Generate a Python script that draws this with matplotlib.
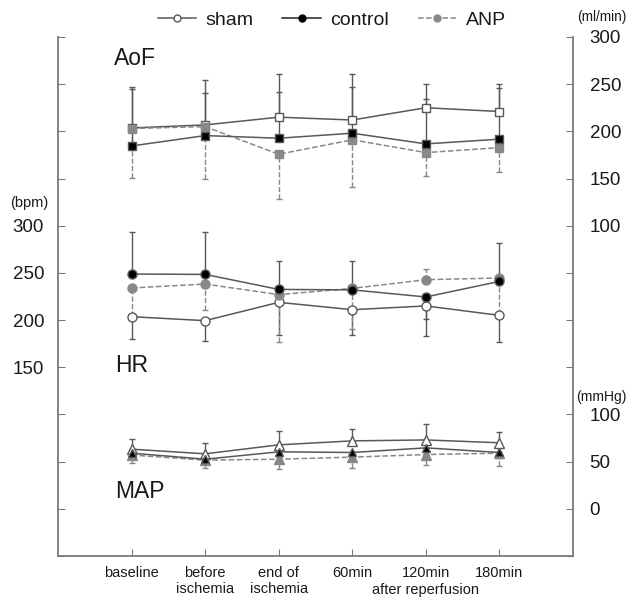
import numpy as np
import matplotlib
matplotlib.use("Agg")
import matplotlib.pyplot as plt
from matplotlib.lines import Line2D

plt.rcParams["font.family"] = ["Liberation Sans", "DejaVu Sans"]

# ==========================
# Data
# ==========================
times = ["baseline", "before\nischemia", "end of\nischemia", "60min", "120min", "180min"]
x = np.arange(len(times))

# AoF (ml/min)
aof_sham = [203.6, 206.8, 215.0, 212.0, 225.0, 221.0]
aof_control = [184.5, 195.5, 192.7, 198.0, 186.7, 191.7]
aof_anp = [203.0, 205.0, 175.7, 191.0, 177.5, 182.7]
aof_sham_up = [43.4, 47.7, 45.8, 48.8, 25.0, 29.0]
aof_control_up = [60.5, 45.0, 48.7, 48.7, 47.6, 54.0]
aof_anp_down = [52.0, 55.7, 47.3, 49.6, 24.7, 25.4]

# HR (bpm)
hr_sham = [203.6, 199.4, 218.8, 211.0, 215.0, 205.0]
hr_control = [248.8, 248.4, 232.5, 232.0, 224.5, 241.0]
hr_anp = [234.0, 238.2, 227.0, 233.6, 242.8, 244.6]
hr_sham_down = [23.6, 21.4, 34.8, 26.5, 32.3, 28.0]
hr_control_up = [44.5, 44.6, 30.5, 31.0, 0.0, 40.6]
hr_control_down = [0.0, 0.0, 0.0, 0.0, 23.5, 0.0]
hr_anp_up = [0.0, 0.0, 0.0, 0.0, 11.0, 0.0]
hr_anp_down = [30.0, 27.0, 50.0, 43.0, 0.0, 38.0]

# MAP (mmHg)
map_sham = [63.2, 58.3, 67.8, 72.0, 73.0, 70.0]
map_control = [59.0, 52.6, 60.4, 59.7, 64.6, 59.7]
map_anp = [57.0, 51.6, 52.6, 54.8, 57.5, 59.0]
map_sham_up = [10.8, 11.7, 14.8, 12.4, 16.7, 11.9]
map_control_down = [5.0, 5.0, 5.0, 6.0, 6.0, 6.0]
map_anp_down = [8.6, 8.6, 10.2, 11.8, 10.9, 13.5]

# ==========================
# Style
# ==========================
line_c = "#585858"
anp_c = "#888888"
spine_c = "#7a7a7a"
text_c = "#1a1a1a"
zero = [0] * len(x)


def series(ax, y, lo, hi, color, ls, marker, mfc, ms):
    ax.errorbar(x, y, yerr=[lo, hi], color=color, ls=ls, lw=1.1,
                marker=marker, mfc=mfc, mec=color if mfc != "white" else line_c,
                ms=ms, capsize=2.5, elinewidth=1.0, capthick=1.0,
                clip_on=False, zorder=3)
    if ls == "--":
        # dashed error bars for ANP
        for child in ax.containers[-1].lines[2]:
            child.set_linestyle("--")


# ==========================
# Figure
# ==========================
fig = plt.figure(figsize=(6.34, 5.98), dpi=100)
ax = fig.add_axes([0.0915, 0.0702, 0.8123, 0.868])
ax2 = ax.twinx()
ax3 = ax.twinx()

# HR on left axis
ax.set_ylim(-50, 500)
ax.set_xlim(-1, 6)
left_ticks = np.arange(-50, 501, 50)
ax.set_yticks(left_ticks, [str(t) if 150 <= t <= 300 else "" for t in left_ticks])

# AoF on right axis
ax2.set_ylim(-250, 300)
right_ticks = np.arange(-250, 301, 50)
ax2.set_yticks(right_ticks, [str(t) if t >= 100 else "" for t in right_ticks])

# MAP on hidden axis with right labels
ax3.set_ylim(-50, 500)
ax3.set_yticks([0, 50, 100])

for a in (ax, ax2, ax3):
    a.spines["top"].set_visible(False)
    for s in a.spines.values():
        s.set_color(spine_c)
        s.set_linewidth(1.3)
ax.spines["right"].set_visible(False)
ax2.spines["left"].set_visible(False)
ax2.spines["bottom"].set_visible(False)
for s in ax3.spines.values():
    s.set_visible(False)

ax.tick_params(axis="y", direction="in", length=5, color=spine_c,
               labelsize=13.5, labelcolor=text_c, pad=10)
ax2.tick_params(axis="y", direction="in", length=5, color=spine_c,
                labelsize=13.5, labelcolor=text_c, pad=12)
ax3.tick_params(axis="y", direction="in", length=0,
                labelsize=13.5, labelcolor=text_c, pad=12)
ax.set_xticks(x, times)
ax.tick_params(axis="x", direction="in", length=5, color=spine_c,
               labelsize=10.5, labelcolor=text_c, pad=7)

# AoF
series(ax2, aof_sham, zero, aof_sham_up, line_c, "-", "s", "white", 6)
series(ax2, aof_anp, aof_anp_down, zero, anp_c, "--", "s", anp_c, 6)
series(ax2, aof_control, zero, aof_control_up, line_c, "-", "s", "black", 6)

# HR
series(ax, hr_sham, hr_sham_down, zero, line_c, "-", "o", "white", 6.5)
series(ax, hr_anp, hr_anp_down, hr_anp_up, anp_c, "--", "o", anp_c, 6.5)
series(ax, hr_control, hr_control_down, hr_control_up, line_c, "-", "o", "black", 6.5)

# MAP
series(ax3, map_sham, zero, map_sham_up, line_c, "-", "^", "white", 6.5)
series(ax3, map_anp, map_anp_down, zero, anp_c, "--", "^", anp_c, 6.5)
series(ax3, map_control, map_control_down, zero, line_c, "-", "^", "black", 6)

# panel labels
ax.text(0.108, 0.958, "AoF", transform=ax.transAxes, fontsize=16.5, va="center", color=text_c)
ax.text(0.110, 0.368, "HR", transform=ax.transAxes, fontsize=16.5, va="center", color=text_c)
ax.text(0.110, 0.125, "MAP", transform=ax.transAxes, fontsize=16.5, va="center", color=text_c)

# units
fig.text(29 / 634, 1 - 203 / 598, "(bpm)", fontsize=10.5, ha="center", va="center", color=text_c)
fig.text(602 / 634, 1 - 17 / 598, "(ml/min)", fontsize=9.8, ha="center", va="center", color=text_c)
fig.text(601 / 634, 1 - 397 / 598, "(mmHg)", fontsize=10, ha="center", va="center", color=text_c)

fig.text(426 / 634, 1 - 590 / 598, "after reperfusion", fontsize=10.5,
         ha="center", va="center", color=text_c)

# legend
handles = [
    Line2D([], [], color=line_c, ls="-", lw=1.1, marker="o", mfc="white", mec=line_c, ms=5),
    Line2D([], [], color="#222222", ls="-", lw=1.1, marker="o", mfc="black", mec="black", ms=5),
    Line2D([], [], color=anp_c, ls="--", lw=1.1, marker="o", mfc=anp_c, mec=anp_c, ms=5),
]
fig.legend(handles, ["sham", "control", "ANP"], loc="center", ncol=3,
           bbox_to_anchor=(0.523, 1 - 20 / 598), frameon=False,
           fontsize=14, handlelength=2.0, columnspacing=1.5, handletextpad=0.45,
           labelcolor=text_c)

fig.savefig("out.png", dpi=100)
